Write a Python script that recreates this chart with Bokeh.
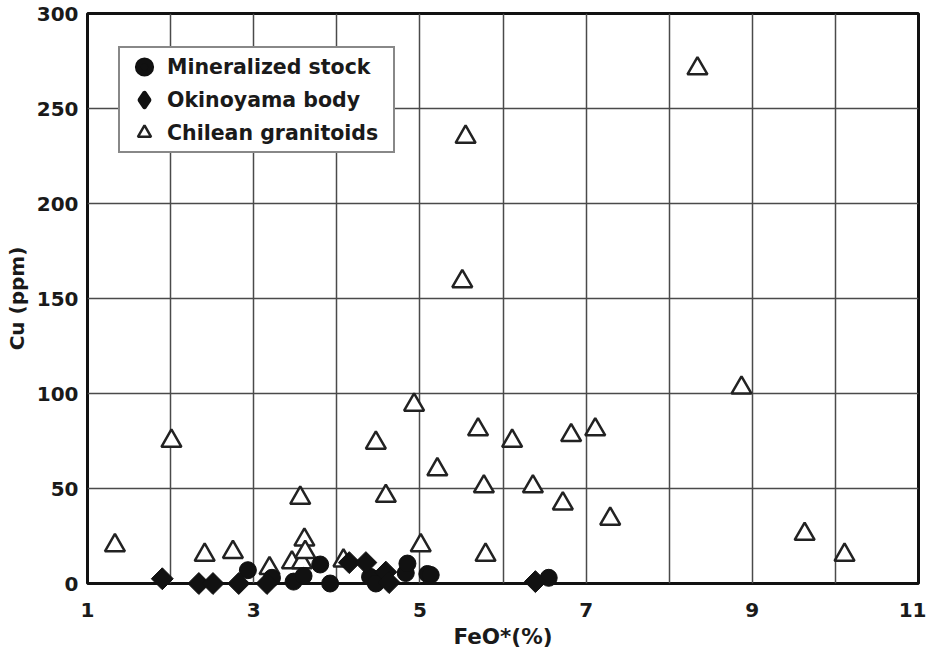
import math
from bokeh.plotting import figure
from bokeh.models import FixedTicker, Range1d, Legend, LegendItem
from bokeh.embed import file_html
from bokeh.resources import INLINE

# ---- data ----
stock_x = [2.93, 3.22, 3.48, 3.60, 3.80, 3.92, 4.40, 4.47, 4.83, 4.85, 5.09, 5.13, 6.55]
stock_y = [7.0, 3.0, 1.0, 4.0, 10.0, 0.0, 3.5, 0.0, 5.5, 10.5, 5.0, 4.5, 3.0]

okin_x = [1.90, 2.34, 2.51, 2.82, 3.16, 4.15, 4.35, 4.59, 4.63, 6.39]
okin_y = [2.5, 0.0, 0.0, 0.0, 0.0, 11.0, 11.0, 6.0, 0.5, 1.0]

chile_x = [1.33, 2.01, 2.41, 2.75, 3.19, 3.46, 3.56, 3.58, 3.61, 3.62, 4.08, 4.47,
           4.59, 4.93, 5.01, 5.21, 5.51, 5.55, 5.70, 5.77, 5.79, 6.11, 6.36, 6.72,
           6.82, 7.11, 7.29, 8.34, 8.87, 9.63, 10.11]
chile_y = [20, 75, 15, 16.5, 8, 11, 45, 11, 23, 16.5, 12, 74,
           46, 94, 20, 60, 159, 235, 81, 51, 15, 75, 51, 42,
           78, 81, 34, 271, 103, 26, 15]

x_label_ticks = [1, 3, 5, 7, 9, 11]
x_grid_ticks = [1, 2, 3, 4, 5, 6, 7, 8, 9, 10, 11]
y_ticks = [0, 50, 100, 150, 200, 250, 300]

FONT = "DejaVu Sans"
INK = "#111111"

p = figure(width=926, height=653,
           x_range=Range1d(1, 11), y_range=Range1d(0, 300),
           output_backend="svg", toolbar_location=None,
           min_border_left=87, min_border_right=8,
           min_border_top=13, min_border_bottom=70)

p.background_fill_color = "white"
p.border_fill_color = "white"
p.outline_line_color = INK
p.outline_line_width = 3

# axes
p.xaxis.ticker = FixedTicker(ticks=x_label_ticks)
p.yaxis.ticker = FixedTicker(ticks=y_ticks)
for ax in (p.xaxis[0], p.yaxis[0]):
    ax.axis_line_color = None
    ax.major_tick_line_color = None
    ax.minor_tick_line_color = None
    ax.major_tick_in = 0
    ax.major_label_text_font = FONT
    ax.major_label_text_font_style = "bold"
    ax.major_label_text_font_size = "20px"
    ax.major_label_text_color = "#1a1a1a"
    ax.axis_label_text_font = FONT
    ax.axis_label_text_font_style = "bold"
    ax.axis_label_text_color = "#1a1a1a"
p.yaxis.major_tick_out = 0
p.xaxis.axis_label = "FeO*(%)"
p.yaxis.axis_label = "Cu (ppm)"
p.xaxis.axis_label_text_font_size = "21.5px"
p.yaxis.axis_label_text_font_size = "20px"
p.xaxis.major_label_standoff = 13
p.xaxis.axis_label_standoff = 4
p.yaxis.major_label_standoff = 9
p.yaxis.axis_label_standoff = 5

# grid
p.xgrid.ticker = FixedTicker(ticks=x_grid_ticks)
p.ygrid.ticker = FixedTicker(ticks=y_ticks)
for g in (p.xgrid[0], p.ygrid[0]):
    g.grid_line_color = "#4a4a4a"
    g.grid_line_width = 1.5
    g.grid_line_alpha = 1.0

# legend-only glyphs: drawn first (hidden underneath the real marks) and
# given thick outlines so that the small legend swatches look bigger
r_stock_leg = p.scatter(stock_x, stock_y, marker="circle", size=10,
                        fill_color=INK, line_color=INK, line_width=6,
                        level="overlay")
r_okin_leg = p.scatter(okin_x, okin_y, marker="diamond", size=11,
                       fill_color=INK, line_color=INK, line_width=5,
                       line_join="round", level="overlay")

# markers
r_chile = p.scatter(chile_x, chile_y, marker="triangle", size=20,
                    fill_color="white", line_color="#222222", line_width=2.5,
                    level="overlay")
r_stock = p.scatter(stock_x, stock_y, marker="circle", size=17,
                    fill_color=INK, line_color=INK, line_width=1,
                    level="overlay")
r_okin = p.scatter(okin_x, okin_y, marker="square", angle=math.pi / 4, size=15.5,
                   fill_color=INK, line_color=INK, line_width=1,
                   level="overlay")

legend = Legend(items=[
    LegendItem(label="Mineralized stock", renderers=[r_stock_leg]),
    LegendItem(label="Okinoyama body", renderers=[r_okin_leg]),
    LegendItem(label="Chilean granitoids", renderers=[r_chile]),
], location=(31, 430))
legend.label_text_font = FONT
legend.label_text_font_style = "bold"
legend.label_text_font_size = "20.5px"
legend.label_text_color = "#1a1a1a"
legend.glyph_width = 44
legend.glyph_height = 33
legend.label_height = 30
legend.label_width = 224
legend.spacing = 0
legend.padding = 2
legend.margin = 0
legend.label_standoff = 1
legend.border_line_color = INK
legend.border_line_width = 2
legend.background_fill_color = "white"
legend.background_fill_alpha = 1.0
p.add_layout(legend, "center")

open("out.html", "w").write(file_html(p, INLINE))
